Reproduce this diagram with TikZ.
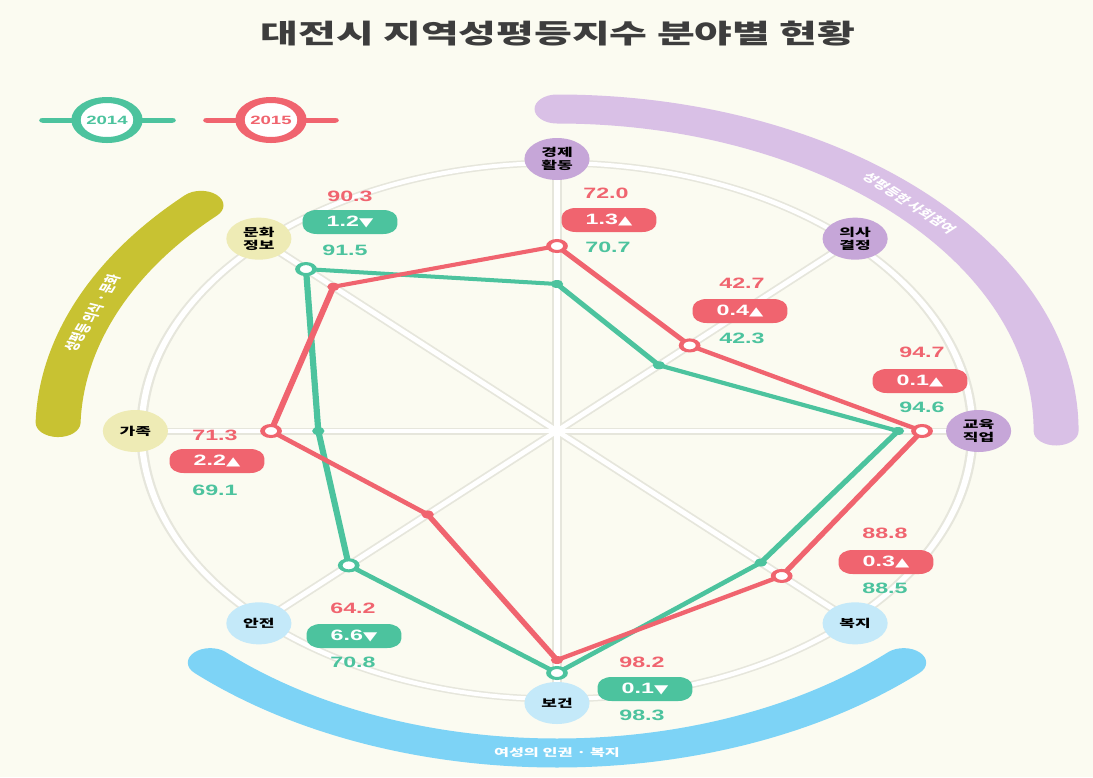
\documentclass[tikz,border=0pt]{standalone}
\usepackage{fontspec}
\newfontfamily\kr{Noto Sans CJK KR}
\newfontfamily\numf{Liberation Sans}
\newfontfamily\symf{DejaVu Sans}
\definecolor{bgc}{HTML}{FBFBF1}
\definecolor{redc}{HTML}{F0646F}
\definecolor{grnc}{HTML}{4CC39E}
\definecolor{olv}{HTML}{C8C232}
\definecolor{olvl}{HTML}{EEEBB5}
\definecolor{prp}{HTML}{D9C0E6}
\definecolor{prpn}{HTML}{C6A6D8}
\definecolor{blu}{HTML}{7DD3F6}
\definecolor{blun}{HTML}{C4E9F9}
\definecolor{gridg}{HTML}{E6E6DC}
\definecolor{titlec}{HTML}{3D3D3D}
\newcommand{\myup}{{\symf\fontsize{12}{12}\selectfont ▲}}
\newcommand{\mydn}{{\symf\fontsize{12}{12}\selectfont ▼}}
\tikzset{
  cat/.style={circle, minimum size=42pt, inner sep=0pt, align=center, font=\kr\bfseries\fontsize{11}{12.5}\selectfont, text=black},
  band/.style={line width=29pt, line cap=round},
  bandlabel/.style={font=\kr\bfseries\fontsize{10.5}{12}\selectfont, text=white},
  gridbase/.style={draw=gridg, line width=7pt},
  gridtop/.style={draw=white, line width=4pt},
  val/.style={font=\numf\bfseries\fontsize{15}{17}\selectfont},
  chg/.style={rounded corners=9pt, minimum width=61pt, minimum height=24pt, inner sep=0pt, text=white, font=\numf\bfseries\fontsize{15}{17}\selectfont},
  openm/.style={circle, fill=white, line width=3pt, minimum size=11pt, inner sep=0pt},
  dotm/.style={circle, minimum size=8pt, inner sep=0pt},
  series/.style={line width=4pt, line join=round},
  legc/.style={circle, fill=white, line width=6pt, minimum size=40pt, inner sep=0pt, font=\numf\bfseries\fontsize{12}{14}\selectfont},
}
\begin{document}
\begin{tikzpicture}[x=1pt,y=-1pt]
\fill[bgc] (0,0) rectangle (1093,777);
\useasboundingbox (0,0) rectangle (1093,777);
\begin{scope}[transform canvas={xscale=1.55}, x=0.645161pt]
\coordinate (c) at (557,431);
% title
\node[font=\kr\bfseries\fontsize{26.5}{28}\selectfont, text=titlec] (title) at (558,34) {대전시 지역성평등지수 분야별 현황};
% bands
\draw[band, olv] ([shift={(135.5:322pt)}]c) arc[start angle=135.5, end angle=178.5, radius=322pt];
\draw[band, prp] ([shift={(90:322pt)}]c) arc[start angle=90, end angle=0, radius=322pt];
\draw[band, blu] ([shift={(226:322pt)}]c) arc[start angle=226, end angle=314, radius=322pt];
\node[bandlabel, rotate=68.5] (lbl1) at ([shift={(158.5:322pt)}]c) {성평등 의식 · 문화};
\node[bandlabel, rotate=-45] (lbl2) at ([shift={(45:322pt)}]c) {성평등한 사회참여};
\node[bandlabel] (lbl3) at ([shift={(270:322pt)}]c) {여성의 인권 · 복지};
% category positions
\foreach \i/\a in {1/90,2/45,3/0,4/-45,5/-90,6/-135,7/180,8/135}{
  \coordinate (p\i) at ([shift={(\a:272pt)}]c);
}
% grid
\draw[gridbase] (c) circle[radius=268pt];
\foreach \i in {1,...,8}{\draw[gridbase] (c) -- (p\i);}
\draw[gridtop] (c) circle[radius=268pt];
\foreach \i in {1,...,8}{\draw[gridtop] (c) -- (p\i);}
% category nodes
\node[cat, fill=prpn] (n1) at (p1) {경제\\활동};
\node[cat, fill=prpn] (n2) at (p2) {의사\\결정};
\node[cat, fill=prpn] (n3) at (p3) {교육\\직업};
\node[cat, fill=blun] (n4) at (p4) {복지};
\node[cat, fill=blun] (n5) at (p5) {보건};
\node[cat, fill=blun] (n6) at (p6) {안전};
\node[cat, fill=olvl] (n7) at (p7) {가족};
\node[cat, fill=olvl] (n8) at (p8) {문화\\정보};
% data points
\foreach \i/\a/\r/\g in {1/90/185/147,2/45/121/93,3/0/235.5/220,4/-45/205/186,5/-90/229/242,6/-135/118/190,7/180/184.5/154,8/135/204/229}{
  \coordinate (r\i) at ([shift={(\a:\r pt)}]c);
  \coordinate (g\i) at ([shift={(\a:\g pt)}]c);
}
\draw[series, grnc] (g1) -- (g2) -- (g3) -- (g4) -- (g5) -- (g6) -- (g7) -- (g8) -- cycle;
\draw[series, redc] (r1) -- (r2) -- (r3) -- (r4) -- (r5) -- (r6) -- (r7) -- (r8) -- cycle;
% markers
\node[dotm, fill=grnc] (mg1) at (g1) {};
\node[dotm, fill=grnc] (mg2) at (g2) {};
\node[dotm, fill=grnc] (mg3) at (g3) {};
\node[dotm, fill=grnc] (mg4) at (g4) {};
\node[openm, draw=grnc] (mg5) at (g5) {};
\node[openm, draw=grnc] (mg6) at (g6) {};
\node[dotm, fill=grnc] (mg7) at (g7) {};
\node[openm, draw=grnc] (mg8) at (g8) {};
\node[openm, draw=redc] (mr1) at (r1) {};
\node[openm, draw=redc] (mr2) at (r2) {};
\node[openm, draw=redc] (mr3) at (r3) {};
\node[openm, draw=redc] (mr4) at (r4) {};
\node[dotm, fill=redc] (mr5) at (r5) {};
\node[dotm, fill=redc] (mr6) at (r6) {};
\node[openm, draw=redc] (mr7) at (r7) {};
\node[dotm, fill=redc] (mr8) at (r8) {};
% value labels
\node[val, text=redc] (v1a) at (606,193) {72.0};
\node[chg, fill=redc] (v1b) at (609,220) {1.3\myup};
\node[val, text=grnc] (v1c) at (608,247) {70.7};
\node[val, text=redc] (v2a) at (742,283) {42.7};
\node[chg, fill=redc] (v2b) at (740,311) {0.4\myup};
\node[val, text=grnc] (v2c) at (742,338) {42.3};
\node[val, text=redc] (v3a) at (922,352) {94.7};
\node[chg, fill=redc] (v3b) at (920,381) {0.1\myup};
\node[val, text=grnc] (v3c) at (922,407) {94.6};
\node[val, text=redc] (v4a) at (885,533) {88.8};
\node[chg, fill=redc] (v4b) at (886,562) {0.3\myup};
\node[val, text=grnc] (v4c) at (885,588) {88.5};
\node[val, text=redc] (v5a) at (642,662) {98.2};
\node[chg, fill=grnc] (v5b) at (645,689) {0.1\mydn};
\node[val, text=grnc] (v5c) at (642,715) {98.3};
\node[val, text=redc] (v6a) at (353,608) {64.2};
\node[chg, fill=grnc] (v6b) at (354,636) {6.6\mydn};
\node[val, text=grnc] (v6c) at (353,662) {70.8};
\node[val, text=redc] (v7a) at (215,435) {71.3};
\node[chg, fill=redc] (v7b) at (217,461) {2.2\myup};
\node[val, text=grnc] (v7c) at (215,490) {69.1};
\node[val, text=redc] (v8a) at (350,196) {90.3};
\node[chg, fill=grnc] (v8b) at (350,222) {1.2\mydn};
\node[val, text=grnc] (v8c) at (345,250) {91.5};
% legend
\coordinate (l1a) at (43,120); \coordinate (l1b) at (172,120);
\coordinate (l2a) at (207,120); \coordinate (l2b) at (335,120);
\draw[grnc, line width=5pt, line cap=round] (l1a) -- (l1b);
\draw[redc, line width=5pt, line cap=round] (l2a) -- (l2b);
\node[legc, draw=grnc, text=grnc] (leg1) at (107,120) {2014};
\node[legc, draw=redc, text=redc] (leg2) at (271,120) {2015};
\end{scope}
\end{tikzpicture}
\end{document}
